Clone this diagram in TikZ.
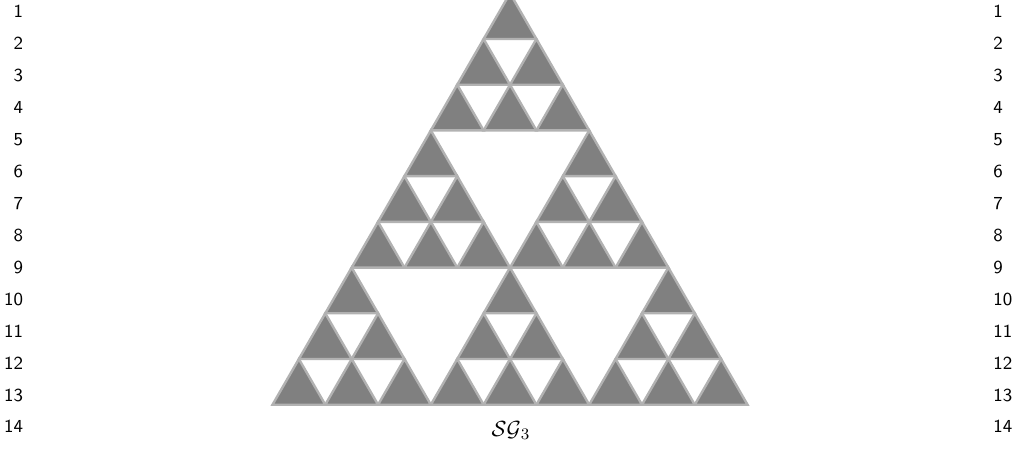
\documentclass[tikz,border=0pt]{standalone}
\begin{document}
\begin{tikzpicture}[x=0.5pt,y=0.5pt]
\tikzset{cell/.style={fill=gray,draw=gray!60,line width=1.2pt},
  lnum/.style={font=\sffamily\fontsize{9.2}{10}\selectfont,inner sep=0pt}}
\useasboundingbox (0,0) rectangle (1016,450);
\def\sgside{52.78}
% gasket: 6 blocks of 6 cells
\foreach \i/\j in {0/0,1/0,2/0,0/1,1/1,0/2}
  \foreach \k/\l in {0/0,1/0,2/0,0/1,1/1,0/2}
  {
    \pgfmathsetmacro\cx{272.5+\sgside*(3*\i+\k)+0.5*\sgside*(3*\j+\l)}
    \pgfmathsetmacro\cy{45.3+0.8660254*\sgside*(3*\j+\l)}
    \filldraw[cell] (\cx,\cy) -- ++(\sgside,0) -- ++(-0.5*\sgside,0.8660254*\sgside) -- cycle;
  }
% line numbers
\foreach \n in {1,...,14}
{
  \pgfmathsetmacro\by{432-(\n-1)*31.92}
  \node[lnum,anchor=base east] (numL\n) at (23.5,\by) {\n};
  \node[lnum,anchor=base west] (numR\n) at (993,\by) {\n};
}
\node[anchor=base,inner sep=0pt,font=\fontsize{10.8}{12}\selectfont] (sglabel) at (511,14) {$\mathcal{SG}_3$};
\end{tikzpicture}
\end{document}
